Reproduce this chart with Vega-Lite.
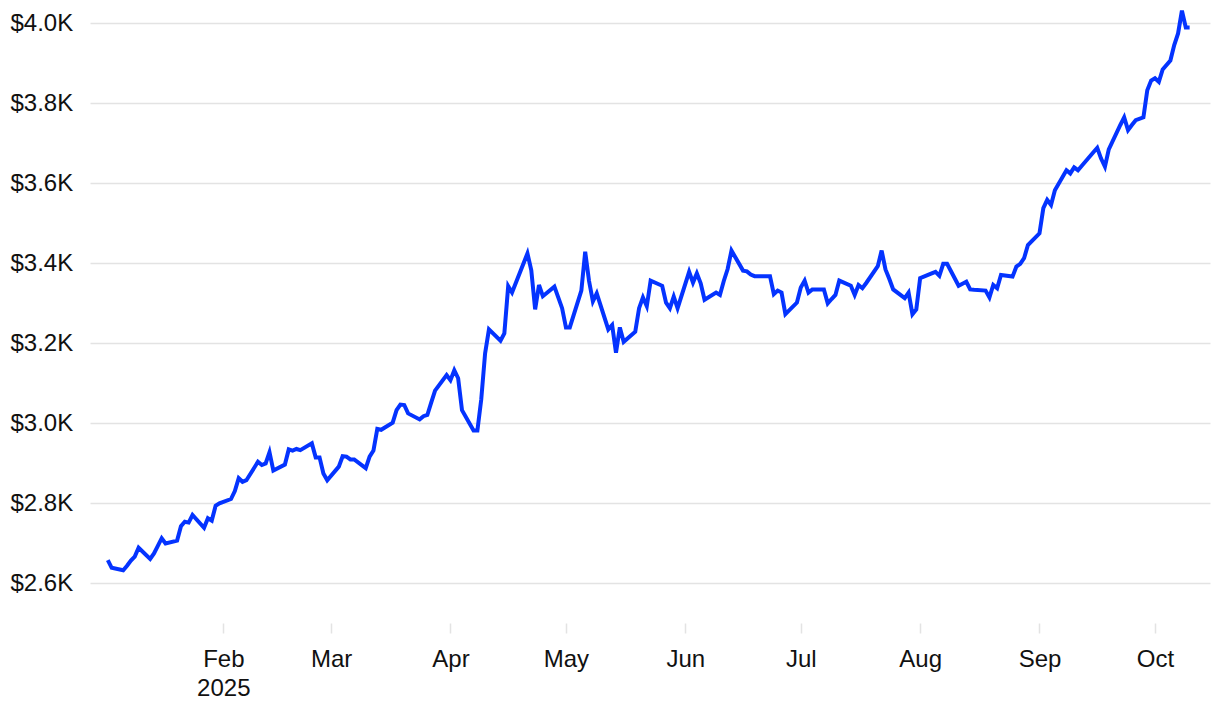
{
  "$schema": "https://vega.github.io/schema/vega-lite/v6.json",
  "autosize": {"type": "none"},
  "width": 1120,
  "height": 620,
  "padding": {"left": 90, "top": 3, "right": 10, "bottom": 89},
  "background": "white",
  "config": {"view": {"stroke": null}, "font": "Liberation Sans"},
  "data": {"values": [
    {"d":"2025-01-02","v":2657},{"d":"2025-01-03","v":2638},{"d":"2025-01-06","v":2632},{"d":"2025-01-07","v":2643},{"d":"2025-01-08","v":2656},{"d":"2025-01-09","v":2666},{"d":"2025-01-10","v":2688},
    {"d":"2025-01-13","v":2660},{"d":"2025-01-14","v":2674},{"d":"2025-01-15","v":2693},{"d":"2025-01-16","v":2712},{"d":"2025-01-17","v":2699},
    {"d":"2025-01-20","v":2706},{"d":"2025-01-21","v":2742},{"d":"2025-01-22","v":2753},{"d":"2025-01-23","v":2751},{"d":"2025-01-24","v":2770},
    {"d":"2025-01-27","v":2738},{"d":"2025-01-28","v":2762},{"d":"2025-01-29","v":2756},{"d":"2025-01-30","v":2793},{"d":"2025-01-31","v":2799},
    {"d":"2025-02-03","v":2810},{"d":"2025-02-04","v":2830},{"d":"2025-02-05","v":2862},{"d":"2025-02-06","v":2853},{"d":"2025-02-07","v":2857},
    {"d":"2025-02-10","v":2903},{"d":"2025-02-11","v":2895},{"d":"2025-02-12","v":2899},{"d":"2025-02-13","v":2927},{"d":"2025-02-14","v":2881},
    {"d":"2025-02-17","v":2896},{"d":"2025-02-18","v":2934},{"d":"2025-02-19","v":2931},{"d":"2025-02-20","v":2935},{"d":"2025-02-21","v":2932},
    {"d":"2025-02-24","v":2949},{"d":"2025-02-25","v":2914},{"d":"2025-02-26","v":2914},{"d":"2025-02-27","v":2874},{"d":"2025-02-28","v":2857},
    {"d":"2025-03-03","v":2891},{"d":"2025-03-04","v":2917},{"d":"2025-03-05","v":2916},{"d":"2025-03-06","v":2909},{"d":"2025-03-07","v":2909},
    {"d":"2025-03-10","v":2887},{"d":"2025-03-11","v":2916},{"d":"2025-03-12","v":2931},{"d":"2025-03-13","v":2985},{"d":"2025-03-14","v":2983},
    {"d":"2025-03-17","v":3001},{"d":"2025-03-18","v":3032},{"d":"2025-03-19","v":3046},{"d":"2025-03-20","v":3045},{"d":"2025-03-21","v":3024},
    {"d":"2025-03-24","v":3009},{"d":"2025-03-25","v":3017},{"d":"2025-03-26","v":3020},{"d":"2025-03-27","v":3051},{"d":"2025-03-28","v":3081},
    {"d":"2025-03-31","v":3120},{"d":"2025-04-01","v":3107},{"d":"2025-04-02","v":3132},{"d":"2025-04-03","v":3112},{"d":"2025-04-04","v":3032},
    {"d":"2025-04-07","v":2981},{"d":"2025-04-08","v":2981},{"d":"2025-04-09","v":3059},{"d":"2025-04-10","v":3174},{"d":"2025-04-11","v":3234},
    {"d":"2025-04-14","v":3206},{"d":"2025-04-15","v":3224},{"d":"2025-04-16","v":3342},{"d":"2025-04-17","v":3326},
    {"d":"2025-04-21","v":3424},{"d":"2025-04-22","v":3382},{"d":"2025-04-23","v":3284},{"d":"2025-04-24","v":3345},{"d":"2025-04-25","v":3317},
    {"d":"2025-04-28","v":3341},{"d":"2025-04-29","v":3314},{"d":"2025-04-30","v":3287},{"d":"2025-05-01","v":3239},{"d":"2025-05-02","v":3239},
    {"d":"2025-05-05","v":3331},{"d":"2025-05-06","v":3428},{"d":"2025-05-07","v":3355},{"d":"2025-05-08","v":3304},{"d":"2025-05-09","v":3324},
    {"d":"2025-05-12","v":3234},{"d":"2025-05-13","v":3245},{"d":"2025-05-14","v":3176},{"d":"2025-05-15","v":3239},{"d":"2025-05-16","v":3203},
    {"d":"2025-05-19","v":3228},{"d":"2025-05-20","v":3287},{"d":"2025-05-21","v":3314},{"d":"2025-05-22","v":3292},{"d":"2025-05-23","v":3356},
    {"d":"2025-05-26","v":3343},{"d":"2025-05-27","v":3301},{"d":"2025-05-28","v":3287},{"d":"2025-05-29","v":3316},{"d":"2025-05-30","v":3287},
    {"d":"2025-06-02","v":3378},{"d":"2025-06-03","v":3351},{"d":"2025-06-04","v":3374},{"d":"2025-06-05","v":3349},{"d":"2025-06-06","v":3308},
    {"d":"2025-06-09","v":3326},{"d":"2025-06-10","v":3320},{"d":"2025-06-11","v":3355},{"d":"2025-06-12","v":3385},{"d":"2025-06-13","v":3431},
    {"d":"2025-06-16","v":3381},{"d":"2025-06-17","v":3379},{"d":"2025-06-18","v":3371},{"d":"2025-06-19","v":3367},{"d":"2025-06-20","v":3367},
    {"d":"2025-06-23","v":3367},{"d":"2025-06-24","v":3322},{"d":"2025-06-25","v":3331},{"d":"2025-06-26","v":3326},{"d":"2025-06-27","v":3272},
    {"d":"2025-06-30","v":3301},{"d":"2025-07-01","v":3339},{"d":"2025-07-02","v":3356},{"d":"2025-07-03","v":3326},{"d":"2025-07-04","v":3334},
    {"d":"2025-07-07","v":3334},{"d":"2025-07-08","v":3299},{"d":"2025-07-09","v":3310},{"d":"2025-07-10","v":3320},{"d":"2025-07-11","v":3356},
    {"d":"2025-07-14","v":3343},{"d":"2025-07-15","v":3320},{"d":"2025-07-16","v":3345},{"d":"2025-07-17","v":3337},{"d":"2025-07-18","v":3350},
    {"d":"2025-07-21","v":3392},{"d":"2025-07-22","v":3431},{"d":"2025-07-23","v":3384},{"d":"2025-07-24","v":3360},{"d":"2025-07-25","v":3334},
    {"d":"2025-07-28","v":3312},{"d":"2025-07-29","v":3326},{"d":"2025-07-30","v":3272},{"d":"2025-07-31","v":3284},{"d":"2025-08-01","v":3362},
    {"d":"2025-08-04","v":3374},{"d":"2025-08-05","v":3378},{"d":"2025-08-06","v":3368},{"d":"2025-08-07","v":3398},{"d":"2025-08-08","v":3398},
    {"d":"2025-08-11","v":3343},{"d":"2025-08-12","v":3348},{"d":"2025-08-13","v":3353},{"d":"2025-08-14","v":3334},{"d":"2025-08-15","v":3333},
    {"d":"2025-08-18","v":3331},{"d":"2025-08-19","v":3314},{"d":"2025-08-20","v":3345},{"d":"2025-08-21","v":3337},{"d":"2025-08-22","v":3370},
    {"d":"2025-08-25","v":3366},{"d":"2025-08-26","v":3391},{"d":"2025-08-27","v":3398},{"d":"2025-08-28","v":3412},{"d":"2025-08-29","v":3445},
    {"d":"2025-09-01","v":3474},{"d":"2025-09-02","v":3537},{"d":"2025-09-03","v":3558},{"d":"2025-09-04","v":3545},{"d":"2025-09-05","v":3582},
    {"d":"2025-09-08","v":3632},{"d":"2025-09-09","v":3624},{"d":"2025-09-10","v":3639},{"d":"2025-09-11","v":3632},{"d":"2025-09-12","v":3643},
    {"d":"2025-09-15","v":3677},{"d":"2025-09-16","v":3688},{"d":"2025-09-17","v":3661},{"d":"2025-09-18","v":3641},{"d":"2025-09-19","v":3684},
    {"d":"2025-09-22","v":3745},{"d":"2025-09-23","v":3764},{"d":"2025-09-24","v":3732},{"d":"2025-09-25","v":3745},{"d":"2025-09-26","v":3757},
    {"d":"2025-09-28","v":3764},{"d":"2025-09-29","v":3832},{"d":"2025-09-30","v":3856},{"d":"2025-10-01","v":3862},{"d":"2025-10-02","v":3853},
    {"d":"2025-10-03","v":3884},{"d":"2025-10-05","v":3906},{"d":"2025-10-06","v":3945},{"d":"2025-10-07","v":3974},{"d":"2025-10-08","v":4031},
    {"d":"2025-10-09","v":3989},{"d":"2025-10-10","v":3989}
  ]},
  "mark": {"type": "line", "color": "#0433ff", "strokeWidth": 4, "strokeJoin": "miter", "clip": false},
  "encoding": {
    "x": {
      "field": "d", "type": "temporal",
      "scale": {"type": "utc", "domain": [
        {"year": 2024, "month": 12, "date": 28, "hours": 9, "utc": true},
        {"year": 2025, "month": 10, "date": 15, "hours": 7, "utc": true}
      ]},
      "axis": {
        "title": null, "grid": false, "domain": false,
        "values": [
          {"year": 2025, "month": 2, "date": 1, "utc": true},
          {"year": 2025, "month": 3, "date": 1, "utc": true},
          {"year": 2025, "month": 4, "date": 1, "utc": true},
          {"year": 2025, "month": 5, "date": 1, "utc": true},
          {"year": 2025, "month": 6, "date": 1, "utc": true},
          {"year": 2025, "month": 7, "date": 1, "utc": true},
          {"year": 2025, "month": 8, "date": 1, "utc": true},
          {"year": 2025, "month": 9, "date": 1, "utc": true},
          {"year": 2025, "month": 10, "date": 1, "utc": true}
        ],
        "labelExpr": "utcFormat(datum.value, '%m') == '02' ? [utcFormat(datum.value, '%b'), '2025'] : utcFormat(datum.value, '%b')",
        "ticks": true, "tickSize": 10, "tickColor": "#e3e3e3", "tickWidth": 1.5,
        "labelFontSize": 24, "labelColor": "#111111", "labelPadding": 14,
        "labelLineHeight": 29, "labelFont": "Liberation Sans", "labelFlush": false
      }
    },
    "y": {
      "field": "v", "type": "quantitative",
      "scale": {"domain": [2500, 4050], "nice": false, "zero": false},
      "axis": {
        "title": null, "domain": false, "ticks": false, "tickSize": 0,
        "values": [2600, 2800, 3000, 3200, 3400, 3600, 3800, 4000],
        "labelExpr": "'$' + format(datum.value / 1000, '.1f') + 'K'",
        "labelAlign": "left", "labelPadding": 80, "labelBaseline": "middle",
        "labelFontSize": 24, "labelColor": "#111111", "labelFont": "Liberation Sans",
        "gridColor": "#e3e3e3", "gridWidth": 1.5
      }
    }
  }
}
